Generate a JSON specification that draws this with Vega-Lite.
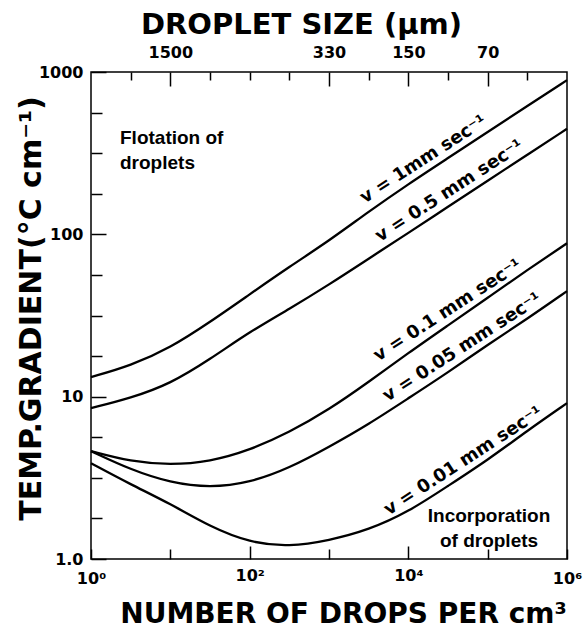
{
  "$schema": "https://vega.github.io/schema/vega-lite/v6.json",
  "width": 476,
  "height": 487,
  "autosize": {"type": "none"},
  "padding": {"left": 91, "top": 72, "right": 17, "bottom": 71},
  "background": "white",
  "config": {
    "font": "DejaVu Sans",
    "view": {"stroke": "black", "strokeWidth": 1.5},
    "axis": {
      "domain": false,
      "grid": false,
      "tickColor": "black",
      "tickWidth": 1.5,
      "labelColor": "black",
      "labelFont": "DejaVu Sans",
      "labelFontWeight": "bold",
      "labelFontSize": 16,
      "titleColor": "black",
      "titleFont": "DejaVu Sans",
      "titleFontWeight": "bold",
      "titleFontSize": 28,
      "labelOverlap": false,
      "labelFlush": false
    }
  },
  "datasets": {
    "curves": [
      {"v": "1", "N": 1, "G": 13.2}, {"v": "1", "N": 3.162, "G": 15.5}, {"v": "1", "N": 10, "G": 20.0}, {"v": "1", "N": 31.62, "G": 28.8}, {"v": "1", "N": 100, "G": 42.7}, {"v": "1", "N": 316.2, "G": 63.1}, {"v": "1", "N": 1000, "G": 91.2}, {"v": "1", "N": 3162, "G": 138}, {"v": "1", "N": 10000, "G": 204}, {"v": "1", "N": 31623, "G": 295}, {"v": "1", "N": 100000, "G": 427}, {"v": "1", "N": 316228, "G": 617}, {"v": "1", "N": 1000000, "G": 891},
      {"v": "0.5", "N": 1, "G": 8.5}, {"v": "0.5", "N": 3.162, "G": 9.8}, {"v": "0.5", "N": 10, "G": 12.0}, {"v": "0.5", "N": 31.62, "G": 17.0}, {"v": "0.5", "N": 100, "G": 25.1}, {"v": "0.5", "N": 316.2, "G": 34.7}, {"v": "0.5", "N": 1000, "G": 49.0}, {"v": "0.5", "N": 3162, "G": 70.8}, {"v": "0.5", "N": 10000, "G": 102}, {"v": "0.5", "N": 31623, "G": 148}, {"v": "0.5", "N": 100000, "G": 214}, {"v": "0.5", "N": 316228, "G": 309}, {"v": "0.5", "N": 1000000, "G": 447},
      {"v": "0.1", "N": 1, "G": 4.62}, {"v": "0.1", "N": 3.162, "G": 3.98}, {"v": "0.1", "N": 10, "G": 3.80}, {"v": "0.1", "N": 31.62, "G": 3.98}, {"v": "0.1", "N": 100, "G": 4.68}, {"v": "0.1", "N": 316.2, "G": 6.03}, {"v": "0.1", "N": 1000, "G": 8.32}, {"v": "0.1", "N": 3162, "G": 12.3}, {"v": "0.1", "N": 10000, "G": 18.6}, {"v": "0.1", "N": 31623, "G": 27.5}, {"v": "0.1", "N": 100000, "G": 40.7}, {"v": "0.1", "N": 316228, "G": 60.3}, {"v": "0.1", "N": 1000000, "G": 88.1},
      {"v": "0.05", "N": 1, "G": 4.62}, {"v": "0.05", "N": 3.162, "G": 3.55}, {"v": "0.05", "N": 10, "G": 2.95}, {"v": "0.05", "N": 31.62, "G": 2.75}, {"v": "0.05", "N": 100, "G": 2.95}, {"v": "0.05", "N": 316.2, "G": 3.63}, {"v": "0.05", "N": 1000, "G": 4.90}, {"v": "0.05", "N": 3162, "G": 6.76}, {"v": "0.05", "N": 10000, "G": 9.77}, {"v": "0.05", "N": 31623, "G": 14.1}, {"v": "0.05", "N": 100000, "G": 20.9}, {"v": "0.05", "N": 316228, "G": 30.2}, {"v": "0.05", "N": 1000000, "G": 44.7},
      {"v": "0.01", "N": 1, "G": 3.89}, {"v": "0.01", "N": 3.162, "G": 2.88}, {"v": "0.01", "N": 10, "G": 2.19}, {"v": "0.01", "N": 31.62, "G": 1.58}, {"v": "0.01", "N": 100, "G": 1.26}, {"v": "0.01", "N": 316.2, "G": 1.19}, {"v": "0.01", "N": 1000, "G": 1.30}, {"v": "0.01", "N": 3162, "G": 1.51}, {"v": "0.01", "N": 10000, "G": 1.95}, {"v": "0.01", "N": 31623, "G": 2.82}, {"v": "0.01", "N": 100000, "G": 4.07}, {"v": "0.01", "N": 316228, "G": 6.17}, {"v": "0.01", "N": 1000000, "G": 9.12}
    ],
    "labels": [
      {"label": "v = 1mm sec⁻¹", "N": 18836, "G": 250},
      {"label": "v = 0.5 mm sec⁻¹", "N": 40000, "G": 160},
      {"label": "v = 0.1 mm sec⁻¹", "N": 38000, "G": 29.4},
      {"label": "v = 0.05 mm sec⁻¹", "N": 58000, "G": 17.4},
      {"label": "v = 0.01 mm sec⁻¹", "N": 60000, "G": 3.47}
    ],
    "notesLeft": [
      {"text": "Flotation of\ndroplets", "N": 2.32, "G": 446}
    ],
    "notesCenter": [
      {"text": "Incorporation\nof droplets", "N": 104000, "G": 2.09}
    ]
  },
  "resolve": {"scale": {"x": "independent"}},
  "layer": [
    {
      "data": {"name": "curves"},
      "mark": {"type": "line", "interpolate": "basis", "color": "black", "strokeWidth": 2.3},
      "encoding": {
        "x": {
          "field": "N", "type": "quantitative",
          "scale": {"type": "log", "domain": [1, 1000000], "nice": false},
          "axis": {
            "orient": "bottom",
            "values": [1, 10, 100, 1000, 10000, 100000, 1000000],
            "labelExpr": "datum.value == 1 ? '10⁰' : datum.value == 100 ? '10²' : datum.value == 10000 ? '10⁴' : datum.value == 1000000 ? '10⁶' : ''",
            "tickSize": {"condition": {"test": "datum.value == 100 || datum.value == 10000", "value": -13}, "value": -10},
            "labelPadding": 21,
            "labelBaseline": "top",
            "title": "NUMBER OF DROPS PER cm³",
            "titleX": 252,
            "titleY": 63,
            "titleAlign": "center",
            "titleBaseline": "alphabetic"
          }
        },
        "y": {
          "field": "G", "type": "quantitative",
          "scale": {"type": "log", "domain": [1, 1000], "nice": false},
          "axis": {
            "orient": "left",
            "values": [1, 1.778, 3.162, 5.623, 10, 17.78, 31.62, 56.23, 100, 177.8, 316.2, 562.3, 1000],
            "labelExpr": "datum.value == 1 ? '1.0' : (datum.value == 10 || datum.value == 100 || datum.value == 1000) ? format(datum.value, 'd') : ''",
            "tickSize": {"condition": {"test": "datum.value == 10 || datum.value == 100 || datum.value == 1000 || datum.value == 1", "value": -15}, "value": -11},
            "labelPadding": 23,
            "labelAlign": "right",
            "labelBaseline": "middle",
            "title": "TEMP.GRADIENT(°C cm⁻¹)",
            "titleFontSize": 30,
            "titleAngle": -90,
            "titleX": -51,
            "titleY": 236,
            "titleAlign": "center",
            "titleBaseline": "alphabetic"
          }
        },
        "detail": {"field": "v"}
      }
    },
    {
      "data": {"name": "labels"},
      "mark": {"type": "text", "angle": 327, "align": "center", "baseline": "bottom", "dy": -3, "font": "DejaVu Sans", "fontWeight": "bold", "fontSize": 18, "color": "black"},
      "encoding": {
        "x": {
          "field": "N", "type": "quantitative",
          "scale": {"type": "log", "domain": [1, 1000000], "nice": false},
          "axis": {
            "orient": "top",
            "values": [3.162, 10, 31.62, 100, 316.2, 1000, 3162, 10000, 31623, 100000, 316228],
            "labelExpr": "datum.value == 10 ? '1500' : datum.value == 1000 ? '330' : datum.value == 10000 ? '150' : datum.value == 100000 ? '70' : ''",
            "tickSize": {"condition": {"test": "datum.value == 10 || datum.value == 1000 || datum.value == 10000 || datum.value == 100000", "value": -14}, "value": -8},
            "labelPadding": 29,
            "labelBaseline": "alphabetic",
            "title": "DROPLET SIZE (µm)",
            "titleFontSize": 29,
            "titleX": 210,
            "titleY": -39,
            "titleAlign": "center",
            "titleBaseline": "alphabetic"
          }
        },
        "y": {"field": "G", "type": "quantitative", "scale": {"type": "log", "domain": [1, 1000], "nice": false}},
        "text": {"field": "label"}
      }
    },
    {
      "data": {"name": "notesLeft"},
      "mark": {"type": "text", "align": "left", "baseline": "top", "lineBreak": "\n", "lineHeight": 25, "font": "Liberation Sans", "fontWeight": "bold", "fontSize": 19, "color": "black"},
      "encoding": {
        "x": {"field": "N", "type": "quantitative", "scale": {"type": "log", "domain": [1, 1000000], "nice": false}, "axis": null},
        "y": {"field": "G", "type": "quantitative", "scale": {"type": "log", "domain": [1, 1000], "nice": false}},
        "text": {"field": "text"}
      }
    },
    {
      "data": {"name": "notesCenter"},
      "mark": {"type": "text", "align": "center", "baseline": "top", "lineBreak": "\n", "lineHeight": 25, "font": "Liberation Sans", "fontWeight": "bold", "fontSize": 19, "color": "black"},
      "encoding": {
        "x": {"field": "N", "type": "quantitative", "scale": {"type": "log", "domain": [1, 1000000], "nice": false}, "axis": null},
        "y": {"field": "G", "type": "quantitative", "scale": {"type": "log", "domain": [1, 1000], "nice": false}},
        "text": {"field": "text"}
      }
    }
  ]
}
